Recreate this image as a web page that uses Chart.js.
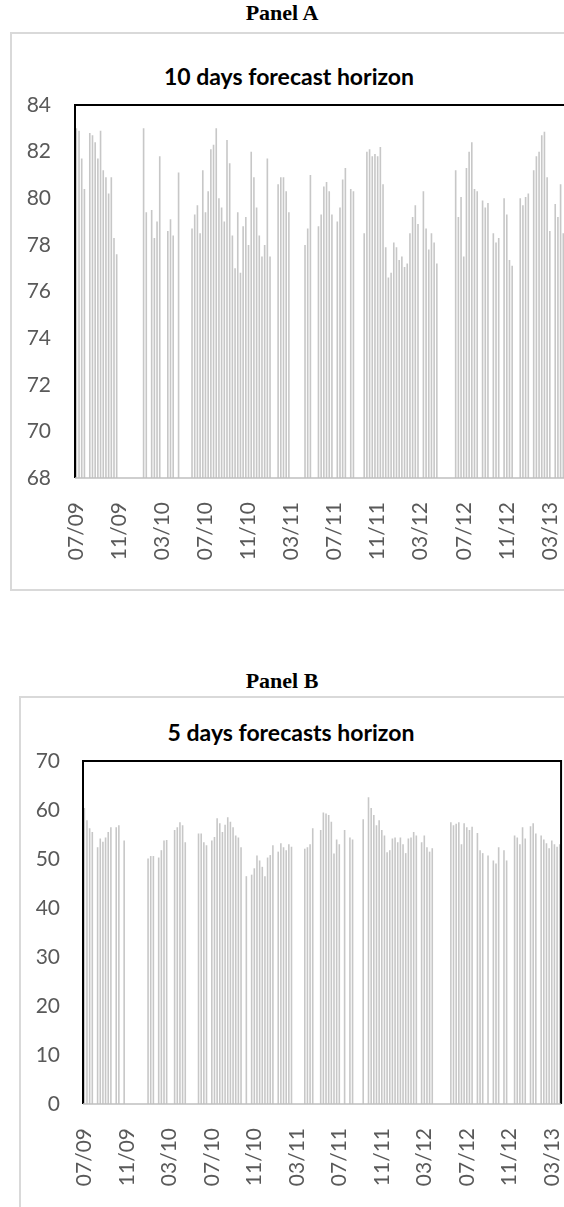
<!DOCTYPE html>
<html>
<head>
<meta charset="utf-8">
<script src="https://cdn.jsdelivr.net/npm/chart.js@4.4.0/dist/chart.umd.min.js"></script>
<style>
  html, body { margin: 0; padding: 0; background: #fff; }
  body { width: 564px; height: 1207px; overflow: hidden; position: relative; }
  .panel-label { position: absolute; left: 0; width: 564px; text-align: center;
    font: bold 22px "Liberation Serif", "Times New Roman", serif; line-height: 24px; color: #000; }
  .frame { position: absolute; box-sizing: border-box; border: 2px solid #d9d9d9; background: #fff; }
  .chart-title { position: absolute; width: 400px; text-align: center; white-space: nowrap;
    font: bold 23px Lato, sans-serif; line-height: 28px; color: #000; }
  canvas { position: absolute; }
</style>
</head>
<body>
<div class="panel-label" style="top:1px">Panel A</div>
<div class="frame" style="left:10px;top:32px;width:640px;height:559px"></div>
<div class="chart-title" style="left:89px;top:62px">10 days forecast horizon</div>
<canvas id="chartA" width="615" height="557" style="left:11px;top:33px"></canvas>

<div class="panel-label" style="top:669px">Panel B</div>
<div class="frame" style="left:19px;top:696px;width:640px;height:600px"></div>
<div class="chart-title" style="left:91px;top:718px">5 days forecasts horizon</div>
<canvas id="chartB" width="589" height="520" style="left:20px;top:697px"></canvas>

<script>
// Axis labels, one every four months (16 weekly slots)
const tickLabels = ['07/09', '11/09', '03/10', '07/10', '11/10', '03/11',
                    '07/11', '11/11', '03/12', '07/12', '11/12', '03/13'];
const slotsPerTick = 16;

// Panel A: 10-day forecast horizon, weekly slots from 07/2009 (null = no observation)
const horizon10 = [
  83.0, 82.9, 81.7, 80.4, null, 82.8, 82.7, 82.4, 81.7, 82.9, 81.2, 80.9, 80.2, 80.9, 78.3, 77.6,
  null, null, null, null, null, null, null, null, null, 83.0, 79.4, null, 79.5, 78.3, 79.0, 81.8,
  null, null, 78.6, 79.1, 78.4, null, 81.1, null, null, null, null, 78.7, 79.3, 79.7, 78.5, 81.2,
  79.4, 80.3, 82.1, 82.3, 83.0, 80.0, 79.6, 79.0, 82.5, 81.5, 78.4, 77.0, 79.4, 76.8, 78.8, 79.2,
  78.0, 82.0, 80.9, 79.6, 78.4, 77.5, 78.0, 81.7, 77.5, null, null, 80.6, 80.9, 80.9, 80.3, 79.4,
  null, null, null, null, null, 78.0, 78.7, 81.0, null, null, 78.8, 79.3, 80.5, 80.7, 80.3, 79.3,
  null, 79.0, 79.6, 80.8, 81.3, null, 80.4, 80.3, null, null, null, 78.5, 82.0, 82.1, 81.8, 81.9,
  81.8, 82.2, 80.6, 77.9, 76.6, 76.8, 78.1, 77.9, 77.35, 77.5, 77.05, 77.2, 78.5, 79.2, 79.7, 78.9,
  null, 80.3, 78.7, 77.8, 78.5, 78.1, 77.2, null, null, null, null, null, null, 81.2, 79.2, 80.05,
  77.5, 81.3, 82.0, 82.4, 80.4, 80.3, null, 79.9, 79.6, 79.8, null, 78.5, 78.1, 78.3, null, 80.0,
  79.3, 77.35, 77.1, null, null, 80.0, 79.7, 80.05, 80.2, null, 81.2, 81.8, 82.0, 82.7, 82.85, 80.9,
  78.6, null, 79.75, 79.2, 80.6, 78.5, 78.0, 76.4, 78.6, 77.3, 76.2
];

// Panel B: 5-day forecast horizon, weekly slots from 07/2009 to 03/2013
const horizon5 = [
  60.4, 57.9, 56.3, 55.5, null, 52.4, 54.2, 53.5, 54.4, 55.5, 56.5, null, 56.5, 56.9, null, 53.8,
  null, null, null, null, null, null, null, null, 50.1, 50.6, 50.6, null, 50.3, 51.8, 53.8, 53.9,
  null, null, 55.9, 56.5, 57.5, 56.9, 53.4, null, null, null, null, 55.2, 55.2, 53.4, 52.8, null,
  53.8, 54.5, 58.3, 57.3, 55.5, 57.0, 58.5, 57.6, 56.5, 54.8, 54.4, 52.4, null, 46.5, null, 46.8,
  48.1, 50.7, 49.7, 48.4, 46.5, 50.3, 50.8, 52.8, null, 51.5, 53.2, 52.4, 51.8, 53.0, 52.5, null,
  null, null, null, 52.1, 52.4, 53.0, 56.3, null, null, 55.9, 59.5, 59.3, 59.0, 57.6, 51.1, 54.0,
  53.0, null, 55.9, null, 54.4, 54.0, null, null, null, 58.1, null, 62.6, 60.4, 59.0, 56.9, 57.9,
  55.9, 54.8, 51.4, 51.8, 54.2, 54.4, 53.4, 54.4, 53.0, 51.2, 54.2, 54.4, 55.5, 54.8, null, 53.4,
  54.8, 52.4, 51.5, 52.2, null, null, null, null, null, null, 57.5, 56.9, 57.2, 57.5, 53.0, 57.3,
  56.5, 55.9, 56.6, null, 55.3, 51.8, 51.2, null, 50.7, null, 49.7, 49.1, 52.4, null, 51.8, 49.7,
  null, null, 54.8, 54.4, 53.0, 56.5, 54.2, null, 56.7, 57.3, 55.2, null, 54.8, 54.0, 53.2, 52.2,
  53.8, 53.0, 52.5, 53.0
];

// Black plot-area outline (top, left, right) and grey category axis line
const plotFrame = {
  id: 'plotFrame',
  afterDraw(chart) {
    const { ctx, chartArea: a } = chart;
    ctx.save();
    ctx.strokeStyle = '#000';
    ctx.lineWidth = 2;
    ctx.beginPath();
    ctx.moveTo(a.left, a.bottom);
    ctx.lineTo(a.left, a.top);
    ctx.lineTo(a.right, a.top);
    ctx.lineTo(a.right, a.bottom);
    ctx.stroke();
    ctx.strokeStyle = '#bfbfbf';
    ctx.lineWidth = 1.5;
    ctx.beginPath();
    ctx.moveTo(a.left, a.bottom);
    ctx.lineTo(a.right, a.bottom);
    ctx.stroke();
    ctx.restore();
  }
};

const tickFont = { family: 'Lato', size: 21 };

function drawPanel(id, values, yMin, yMax, yStep, box) {
  const slots = values.map((_, i) => 'slot ' + i);
  return new Chart(document.getElementById(id), {
    type: 'bar',
    data: {
      labels: slots,
      datasets: [{
        data: values,
        backgroundColor: 'rgba(185,185,185,0.8)',
        borderWidth: 0,
        barPercentage: 0.6,
        categoryPercentage: 1
      }]
    },
    options: {
      responsive: false,
      animation: false,
      devicePixelRatio: 1,
      layout: { padding: { top: box.top, right: box.right, left: 0, bottom: 0 } },
      plugins: { legend: { display: false }, title: { display: false }, tooltip: { enabled: false } },
      scales: {
        x: {
          grid: { display: false, drawTicks: false },
          border: { display: false },
          ticks: {
            autoSkip: false, minRotation: 90, maxRotation: 90, padding: box.xPad,
            color: '#595959', font: tickFont,
            callback: (v, i) => (i % slotsPerTick === 0 ? tickLabels[i / slotsPerTick] : '')
          },
          afterFit: s => { s.height = box.xHeight; }
        },
        y: {
          min: yMin, max: yMax,
          grid: { display: false, drawTicks: false },
          border: { display: false },
          ticks: { stepSize: yStep, padding: box.yPad, color: '#595959', font: tickFont },
          afterFit: s => { s.width = box.yWidth; }
        }
      }
    },
    plugins: [plotFrame]
  });
}

function drawAll() {
  drawPanel('chartA', horizon10, 68, 84, 2,
    { top: 72, right: 25, yWidth: 64, xHeight: 112, xPad: 24, yPad: 24 });
  drawPanel('chartB', horizon5, 0, 70, 10,
    { top: 64, right: 20, yWidth: 63, xHeight: 113, xPad: 24, yPad: 23 });
}

if (document.fonts && document.fonts.load) {
  Promise.all([document.fonts.load('21px Lato'), document.fonts.load('bold 23px Lato')])
    .then(drawAll, drawAll);
} else {
  drawAll();
}
</script>
</body>
</html>
